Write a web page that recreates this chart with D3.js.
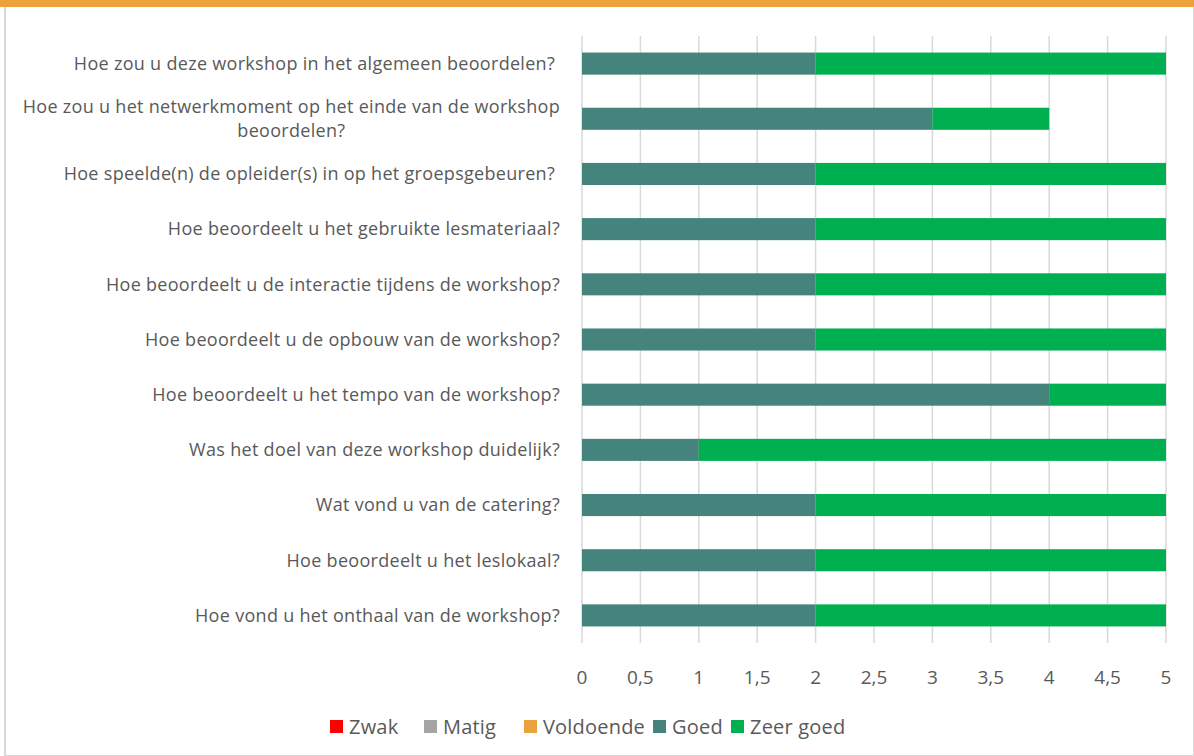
<!DOCTYPE html>
<html lang="nl">
<head>
<meta charset="utf-8">
<style>
  body { margin: 0; background: #fff; }
  svg text { font-family: "Open Sans", sans-serif; fill: #595959; white-space: pre; }
</style>
</head>
<body>
<script src="https://cdn.jsdelivr.net/npm/d3@7"></script>
<script>
// vragen (van boven naar onder)
var questions = [
  "Hoe zou u deze workshop in het algemeen beoordelen? ",
  "Hoe zou u het netwerkmoment op het einde van de workshop|beoordelen?",
  "Hoe speelde(n) de opleider(s) in op het groepsgebeuren? ",
  "Hoe beoordeelt u het gebruikte lesmateriaal?",
  "Hoe beoordeelt u de interactie tijdens de workshop?",
  "Hoe beoordeelt u de opbouw van de workshop?",
  "Hoe beoordeelt u het tempo van de workshop?",
  "Was het doel van deze workshop duidelijk?",
  "Wat vond u van de catering?",
  "Hoe beoordeelt u het leslokaal?",
  "Hoe vond u het onthaal van de workshop?"
];
var seriesNames = ["Zwak", "Matig", "Voldoende", "Goed", "Zeer goed"];
var seriesColors = ["#ff0000", "#a5a5a5", "#eba23a", "#44847c", "#00b050"];
var zwak      = [0,0,0,0,0,0,0,0,0,0,0];
var matig     = [0,0,0,0,0,0,0,0,0,0,0];
var voldoende = [0,0,0,0,0,0,0,0,0,0,0];
var goed      = [2,3,2,2,2,2,4,1,2,2,2];
var zeerGoed  = [3,1,3,3,3,3,1,4,3,3,3];
var xTicks = [0,0.5,1,1.5,2,2.5,3,3.5,4,4.5,5];

var w = 1194, h = 756;
var svg = d3.select("body").append("svg").attr("width", w).attr("height", h);

// kader
svg.append("rect").attr("x", 5).attr("y", 0).attr("width", w - 5).attr("height", h)
  .attr("fill", "#fff").attr("stroke", "#d9d9d9").attr("stroke-width", 2);
svg.append("rect").attr("x", 0).attr("y", 0).attr("width", w).attr("height", 7).attr("fill", "#eba23a");

var rows = questions.map(function(q, i) {
  return { q: q, vals: [zwak[i], matig[i], voldoende[i], goed[i], zeerGoed[i]] };
});

var x = d3.scaleLinear().domain([0, 5]).range([582, 1166]);
var y = d3.scaleBand().domain(d3.range(questions.length)).range([36, 643]).paddingInner(0.6).paddingOuter(0.3);

// rasterlijnen
svg.append("g").selectAll("line").data(xTicks).enter().append("line")
  .attr("x1", function(d) { return x(d); }).attr("x2", function(d) { return x(d); })
  .attr("y1", 36).attr("y2", 643)
  .attr("stroke", "#d9d9d9").attr("stroke-width", 1.5);

var stack = d3.stack().keys(d3.range(5)).value(function(d, k) { return d.vals[k]; });
var layers = stack(rows);

svg.append("g").selectAll("g").data(layers).enter().append("g")
  .attr("fill", function(d, i) { return seriesColors[i]; })
  .selectAll("rect").data(function(d) { return d; }).enter().append("rect")
  .attr("x", function(d) { return x(d[0]); })
  .attr("width", function(d) { return x(d[1]) - x(d[0]); })
  .attr("y", function(d, i) { return y(i); })
  .attr("height", y.bandwidth());

// vraaglabels (afgebroken regels worden gecentreerd onder de eerste)
var labelRight = 560;
svg.append("g").selectAll("text").data(questions).enter().append("text")
  .attr("font-size", "18px")
  .attr("letter-spacing", "0.3px")
  .each(function(d, i) {
    var parts = d.split("|");
    var cy = y(i) + y.bandwidth() / 2;
    var t = d3.select(this);
    if (parts.length === 1) {
      t.attr("text-anchor", "end").attr("x", labelRight).attr("y", cy).attr("dy", "0.35em").text(d);
      return;
    }
    t.attr("text-anchor", "end").attr("x", labelRight)
      .attr("y", cy - 12).attr("dy", "0.35em").text(parts[0]);
    var lw = this.getComputedTextLength();
    d3.select(this.parentNode).append("text")
      .attr("font-size", "18px").attr("letter-spacing", "0.3px")
      .attr("text-anchor", "middle")
      .attr("x", labelRight - lw / 2).attr("y", cy + 12).attr("dy", "0.35em")
      .text(parts[1]);
  });

// x-as labels
svg.append("g").selectAll("text").data(xTicks).enter().append("text")
  .attr("x", function(d) { return x(d); }).attr("y", 684)
  .attr("text-anchor", "middle").attr("font-size", "19px")
  .text(function(d) { return String(d).replace(".", ","); });

// legenda
var legendX = [330, 424, 524, 653, 731];
var lg = svg.append("g").selectAll("g").data(seriesNames).enter().append("g")
  .attr("transform", function(d, i) { return "translate(" + legendX[i] + ",720)"; });
lg.append("rect").attr("width", 13).attr("height", 13)
  .attr("fill", function(d, i) { return seriesColors[i]; });
lg.append("text").attr("x", 19).attr("y", 14).attr("font-size", "20px")
  .attr("letter-spacing", "0.2px").text(function(d) { return d; });
</script>
</body>
</html>
